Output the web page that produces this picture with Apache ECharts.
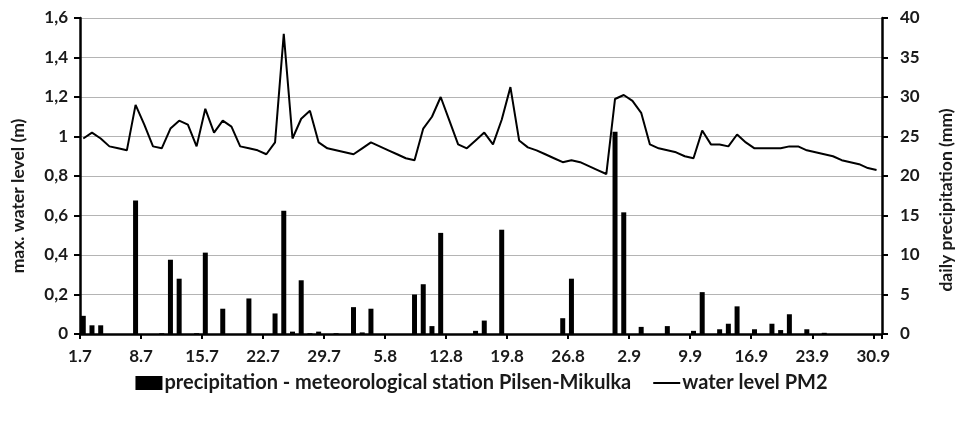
<!DOCTYPE html>
<html><head><meta charset="utf-8">
<script src="https://cdn.jsdelivr.net/npm/echarts@6/dist/echarts.min.js"></script>
<style>html,body{margin:0;padding:0;background:#fff}#c{width:963px;height:421px}</style>
</head><body><div id="c"></div>
<script>
// x-axis tick labels (every 7 days, 1.7 .. 30.9)
const tickLabels = ['1.7','8.7','15.7','22.7','29.7','5.8','12.8','19.8','26.8','2.9','9.9','16.9','23.9','30.9'];
// observation hour of day (values are placed at 9:00 of each day)
const obsHour = 9;
// daily maximum water level PM2 (m), 1.7 .. 30.9
const waterLevel = [
  0.99,1.02,0.99,0.95,0.94,0.93,1.16,1.06,0.95,0.94,
  1.04,1.08,1.06,0.95,1.14,1.02,1.08,1.05,0.95,0.94,
  0.93,0.91,0.97,1.52,0.99,1.09,1.13,0.97,0.94,0.93,
  0.92,0.91,0.94,0.97,0.95,0.93,0.91,0.89,0.88,1.04,
  1.10,1.20,1.08,0.96,0.94,0.98,1.02,0.96,1.085,1.25,
  0.98,0.945,0.93,0.91,0.89,0.87,0.88,0.87,0.85,0.83,
  0.81,1.19,1.21,1.18,1.12,0.96,0.94,0.93,0.92,0.90,
  0.89,1.03,0.96,0.96,0.95,1.01,0.97,0.94,0.94,0.94,
  0.94,0.95,0.95,0.93,0.92,0.91,0.90,0.88,0.87,0.86,
  0.84,0.83
];
// daily precipitation, station Pilsen-Mikulka (mm), 1.7 .. 30.9
const precipitation = [
  2.3,1.1,1.1,0,0,0,16.9,0,0,0.1,
  9.4,7.0,0,0.1,10.3,0,3.2,0,0,4.5,
  0,0,2.6,15.6,0.3,6.8,0.1,0.3,0,0.1,
  0,3.4,0.2,3.2,0,0,0,0,5.0,6.3,
  1.0,12.8,0,0,0,0.4,1.7,0,13.2,0,
  0,0,0,0,0,2.0,7.0,0,0,0,
  0,25.6,15.4,0,0.9,0,0,1.0,0,0,
  0.4,5.3,0,0.6,1.3,3.5,0,0.6,0,1.3,
  0.5,2.5,0,0.6,0,0.15,0,0,0,0,
  0,0
];

const xOf = i => i + obsHour / 24;
const lineData = waterLevel.map((v, i) => [xOf(i), v]);
const barData = precipitation.map((v, i) => [xOf(i), v]);
const nDays = waterLevel.length; // axis spans 1.7 00:00 .. 1.10 00:00

const FONT = 'Lato';
const TXT = '#1a1a1a';
const chart = echarts.init(document.getElementById('c'), null, {renderer: 'canvas'});
chart.setOption({
  animation: false,
  backgroundColor: '#fff',
  grid: {left: 80, right: 74, top: 18, bottom: 87},
  legend: {
    left: 'center', top: 368, itemGap: 22, itemWidth: 27, itemHeight: 14,
    textStyle: {fontFamily: FONT, fontSize: 20, fontWeight: 'bold', color: TXT, padding: [0, 0, 0, -3]},
    data: [
      {name: 'precipitation - meteorological station Pilsen-Mikulka', icon: 'rect'},
      {name: 'water level PM2', icon: 'path://M0,0H27V2H0Z'}
    ]
  },
  xAxis: {
    type: 'value', min: 0, max: nDays, interval: 7,
    axisLine: {show: true, onZero: false, lineStyle: {color: '#000', width: 2.5}},
    axisTick: {show: true, length: 5, lineStyle: {color: '#000', width: 2}},
    splitLine: {show: false},
    axisLabel: {
      fontFamily: FONT, fontSize: 17, fontWeight: 'bold', color: TXT, margin: 14,
      formatter: v => (v % 7 === 0 ? (tickLabels[v / 7] || '') : '')
    }
  },
  yAxis: [
    {
      type: 'value', min: 0, max: 1.6, interval: 0.2, position: 'left',
      name: 'max. water level (m)', nameLocation: 'middle', nameGap: 53, nameRotate: 90,
      nameTextStyle: {fontFamily: FONT, fontSize: 17.5, fontWeight: 'bold', color: TXT, padding: [0, 40, 0, 0]},
      axisLine: {show: true, lineStyle: {color: '#000', width: 2.5}},
      axisTick: {show: true, length: 6, lineStyle: {color: '#000', width: 2}},
      splitLine: {show: true, lineStyle: {color: '#b4b4b4', width: 1}},
      axisLabel: {
        fontFamily: FONT, fontSize: 17, fontWeight: 'bold', color: TXT, margin: 12,
        formatter: v => (Math.round(v * 10) / 10).toString().replace('.', ',')
      }
    },
    {
      type: 'value', min: 0, max: 40, interval: 5, position: 'right',
      name: 'daily precipitation (mm)', nameLocation: 'middle', nameGap: 55, nameRotate: 90,
      nameTextStyle: {fontFamily: FONT, fontSize: 17.5, fontWeight: 'bold', color: TXT, padding: [0, 48, 0, 0]},
      axisLine: {show: true, lineStyle: {color: '#000', width: 2.5}},
      axisTick: {show: true, length: 6, lineStyle: {color: '#000', width: 2}},
      splitLine: {show: false},
      axisLabel: {fontFamily: FONT, fontSize: 17, fontWeight: 'bold', color: TXT, margin: 18}
    }
  ],
  series: [
    {
      name: 'precipitation - meteorological station Pilsen-Mikulka',
      type: 'bar', yAxisIndex: 1, data: barData, barWidth: 5,
      itemStyle: {color: '#000'}
    },
    {
      name: 'water level PM2',
      type: 'line', yAxisIndex: 0, data: lineData, symbol: 'none',
      lineStyle: {color: '#000', width: 2}, itemStyle: {color: '#000'}
    }
  ]
});
</script>
</body></html>
